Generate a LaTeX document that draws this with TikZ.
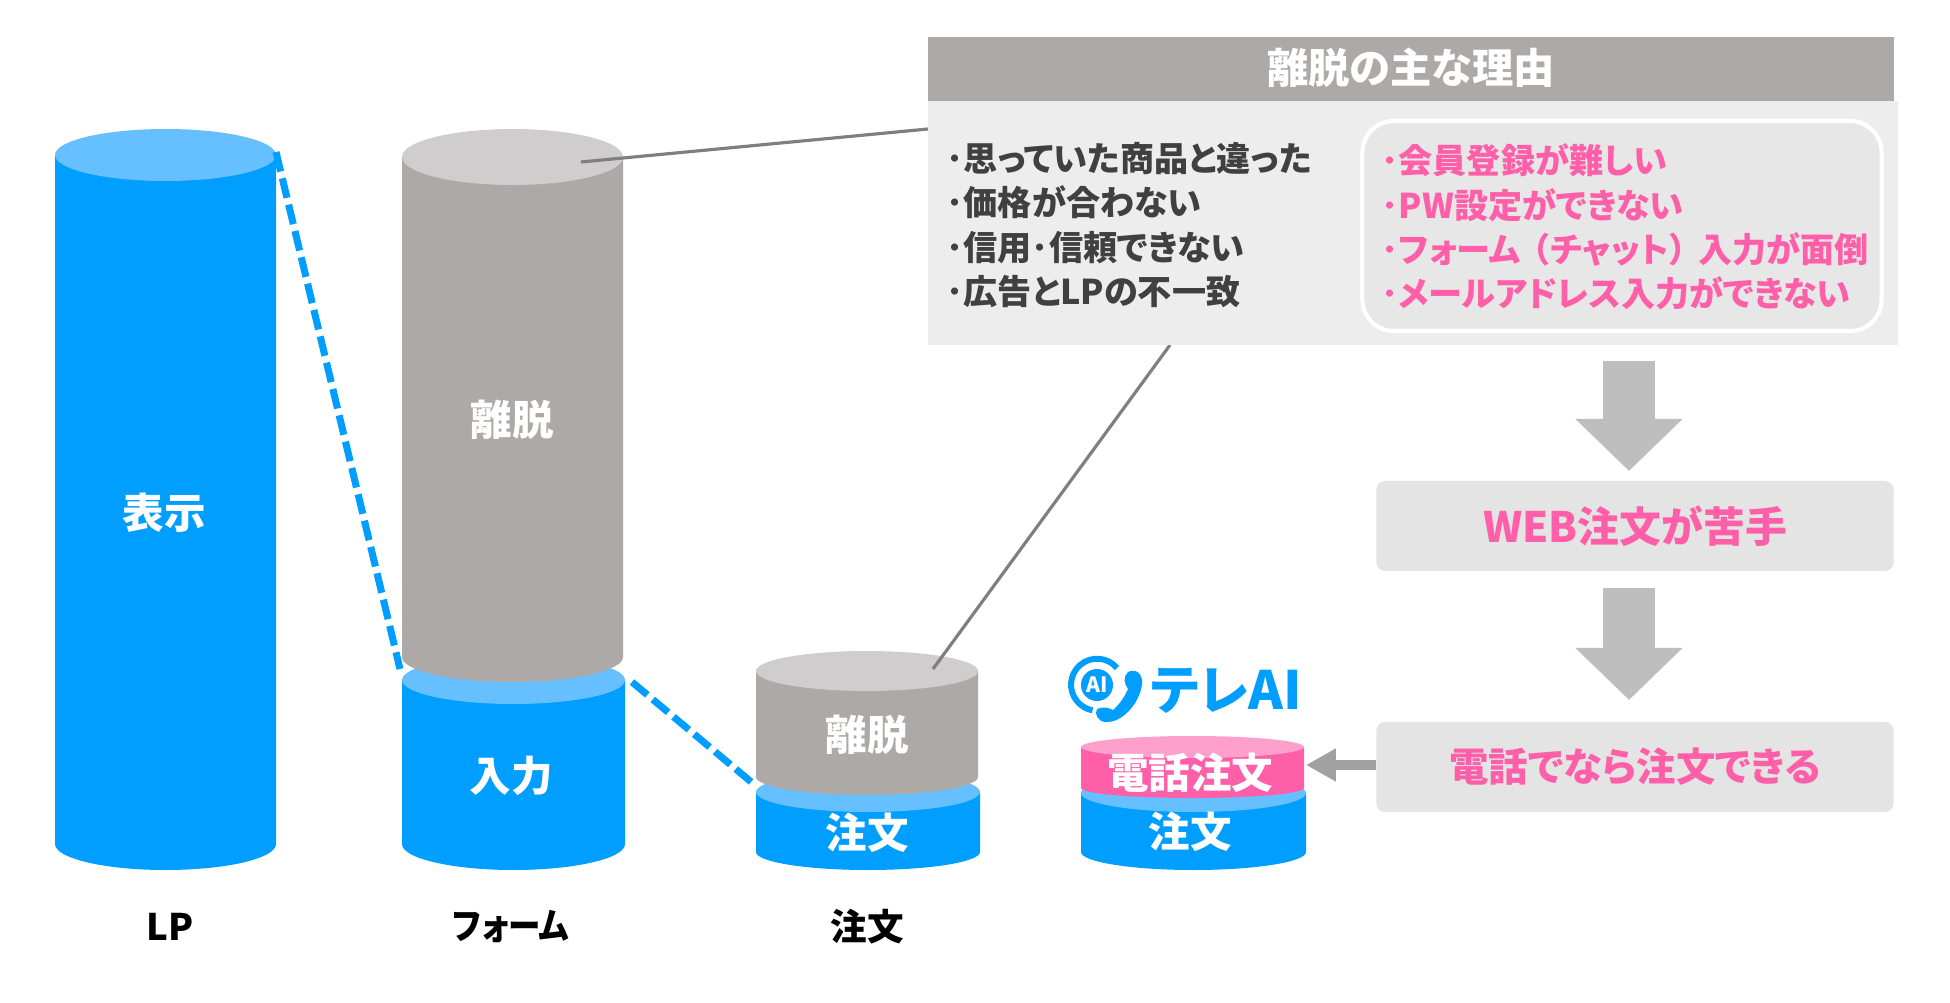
\documentclass[tikz,border=0pt]{standalone}
\usepackage{fontspec}
\usepackage{xcolor}
\usepackage{tikz}
\usetikzlibrary{arrows.meta}
\newfontfamily\jpfont{Noto Sans CJK JP}[RawFeature=+palt]
\definecolor{cvblue}{HTML}{009EFF}
\definecolor{cvbluetop}{HTML}{66BFFF}
\definecolor{cvgray}{HTML}{ADA9A7}
\definecolor{cvgraytop}{HTML}{CFCDCD}
\definecolor{cvpink}{HTML}{FF5FA8}
\definecolor{cvpinktop}{HTML}{FF9FCB}
\definecolor{cvpanel}{HTML}{EDEDED}
\definecolor{cvbox}{HTML}{E4E4E4}
\definecolor{cvarrow}{HTML}{BEBEBE}
\definecolor{cvline}{HTML}{7F7F7F}
\definecolor{cvink}{HTML}{404040}
\tikzset{
  cyllabel/.style={font=\jpfont\bfseries\fontsize{11.8}{13}\selectfont, text=white, inner sep=0pt},
  axislabel/.style={font=\jpfont\bfseries\fontsize{10.4}{12}\selectfont, text=black, inner sep=0pt},
  panelhead/.style={fill=cvgray, text=white, minimum width=9.66cm, minimum height=0.64cm,
    inner sep=0pt, font=\jpfont\bfseries\fontsize{11.75}{13}\selectfont},
  panelbody/.style={fill=cvpanel, minimum width=9.70cm, minimum height=2.44cm, inner sep=0pt},
  reasonbox/.style={draw=white, line width=1.2pt, fill=cvbox!70!cvpanel, rounded corners=9pt,
    minimum width=5.19cm, minimum height=2.10cm, inner sep=0pt},
  reasons/.style={anchor=west, align=left, inner sep=0pt,
    font=\jpfont\bfseries\fontsize{9.7}{12.6}\selectfont},
  stepbox/.style={fill=cvbox, rounded corners=2.5pt, minimum width=5.17cm, minimum height=0.90cm,
    inner sep=0pt, text=cvpink, font=\jpfont\bfseries\fontsize{11.2}{13}\selectfont},
  dropline/.style={draw=cvblue, line width=2pt, dash pattern=on 5.7pt off 2pt},
  leader/.style={draw=cvline, line width=0.9pt},
  bigarr/.style={draw=cvarrow, line width=14.8pt, -{Triangle[length=14.8pt,width=29.6pt]}},
  smallarr/.style={draw=cvarrow!85!black, line width=2.85pt, -{Triangle[length=8.5pt,width=8.8pt]}}
}
% left, right, top y, top ry, bottom y, bottom ry, side, top
\newcommand{\cvcyl}[8]{
  \pgfmathsetmacro{\cvrx}{(#2-#1)/2}
  \fill[#7] (#1,#3) -- (#1,#5) arc[start angle=180, end angle=0, x radius=\cvrx, y radius=#6]
    -- (#2,#3) -- cycle;
  \fill[#8] ({(#1+#2)/2},#3) ellipse[x radius=\cvrx, y radius=#4];
}
\begin{document}
\begin{tikzpicture}[x=0.01cm,y=-0.01cm]
  \useasboundingbox (0,0) rectangle (1950,1003);
  \fill[white] (0,0) rectangle (1950,1003);

  \cvcyl{55}{276}{155}{26}{844}{26}{cvblue}{cvbluetop}
  \cvcyl{402}{625}{680}{24}{844}{26}{cvblue}{cvbluetop}
  \cvcyl{402}{623}{157}{28}{657}{25}{cvgray}{cvgraytop}
  \cvcyl{756}{980}{792}{20}{852}{18}{cvblue}{cvbluetop}
  \cvcyl{756}{978}{671}{20}{777}{18}{cvgray}{cvgraytop}
  \cvcyl{1081}{1306}{793}{19}{852}{18}{cvblue}{cvbluetop}
  \cvcyl{1081}{1304}{747}{11}{788}{10}{cvpink}{cvpinktop}

  \coordinate (lptop) at (276,152);
  \coordinate (formleft) at (400,669);
  \coordinate (formright) at (632,682);
  \coordinate (orderleft) at (756,786);
  \coordinate (formtop) at (581,162);
  \coordinate (ordertop) at (933,669);
  \coordinate (panelleft) at (928,129);
  \coordinate (panelbottom) at (1170,345);
  \draw[dropline] (lptop) -- (formleft);
  \draw[dropline] (formright) -- (orderleft);
  \draw[leader] (formtop) -- (panelleft);
  \draw[leader] (ordertop) -- (panelbottom);

  \node[cyllabel] (show) at (164,513) {表示};
  \node[cyllabel] (leave1) at (512,420) {離脱};
  \node[cyllabel] (input) at (511,776) {入力};
  \node[cyllabel] (leave2) at (867,735) {離脱};
  \node[cyllabel] (order1) at (867,833) {注文};
  \node[cyllabel] (telorder) at (1190,773) {電話注文};
  \node[cyllabel] (order2) at (1190,832) {注文};
  \node[axislabel] (lp) at (170,927) {LP};
  \node[axislabel] (form) at (511,927) {\scalebox{0.89}[1]{フォーム}};
  \node[axislabel] (order) at (867,927) {注文};

  \node[panelbody] (panel) at (1413,223) {};
  \node[panelhead] (head) at (1411,69) {\raisebox{1.6pt}{離脱の主な理由}};
  \node[reasonbox] (inner) at (1622,226) {};
  \node[reasons, text=cvink] (why1) at (946,225)
    {･思っていた商品と違った\\･価格が合わない\\･信用･信頼できない\\･広告とLPの不一致};
  \node[reasons, text=cvpink] (why2) at (1381,227)
    {･会員登録が難しい\\･PW設定ができない\\･フォーム\hspace{3.2pt}（\hspace{0.5pt}チャット\hspace{0.5pt}）\hspace{3.2pt}入力が面倒\\･メールアドレス入力ができない};

  \node[stepbox] (weak) at (1635,526) {\fontsize{11.9}{13}\selectfont WEB注文が苦手};
  \node[stepbox] (tel) at (1635,767) {電話でなら注文できる};
  \coordinate (a1top) at (1629,361);
  \coordinate (a1tip) at (1629,471);
  \coordinate (a2top) at (1629,588);
  \coordinate (a2tip) at (1629,700);
  \coordinate (a3tip) at (1306,765);
  \draw[bigarr] (a1top) -- (a1tip);
  \draw[bigarr] (a2top) -- (a2tip);
  \draw[smallarr] (tel.west |- a3tip) -- (a3tip);

  % logo
  \draw[cvblue, line width=1.7pt] (1117,668) arc[start angle=-40, end angle=-260, radius=26];
  \fill[cvblue] (1097,685) circle[radius=16];
  \node[inner sep=0pt, text=white, font=\jpfont\bfseries\fontsize{6}{7}\selectfont] (logoai) at (1097,685) {AI};
  \draw[white, line width=3pt] (1136,676) .. controls (1138,695) and (1120,712) .. (1103,714);
  \fill[cvblue] (1128,672) .. controls (1136,668) and (1143,674) .. (1142,684)
    .. controls (1140,703) and (1122,723) .. (1106,722)
    .. controls (1098,722) and (1094,714) .. (1097,709)
    .. controls (1103,706) and (1110,708) .. (1113,710)
    .. controls (1120,704) and (1125,696) .. (1128,689)
    .. controls (1124,684) and (1123,677) .. (1128,672) -- cycle;
  \node[inner sep=0pt, anchor=west, text=cvblue, font=\jpfont\bfseries\fontsize{15}{17}\selectfont] (logotext) at (1150,691) {テレAI};
\end{tikzpicture}
\end{document}
